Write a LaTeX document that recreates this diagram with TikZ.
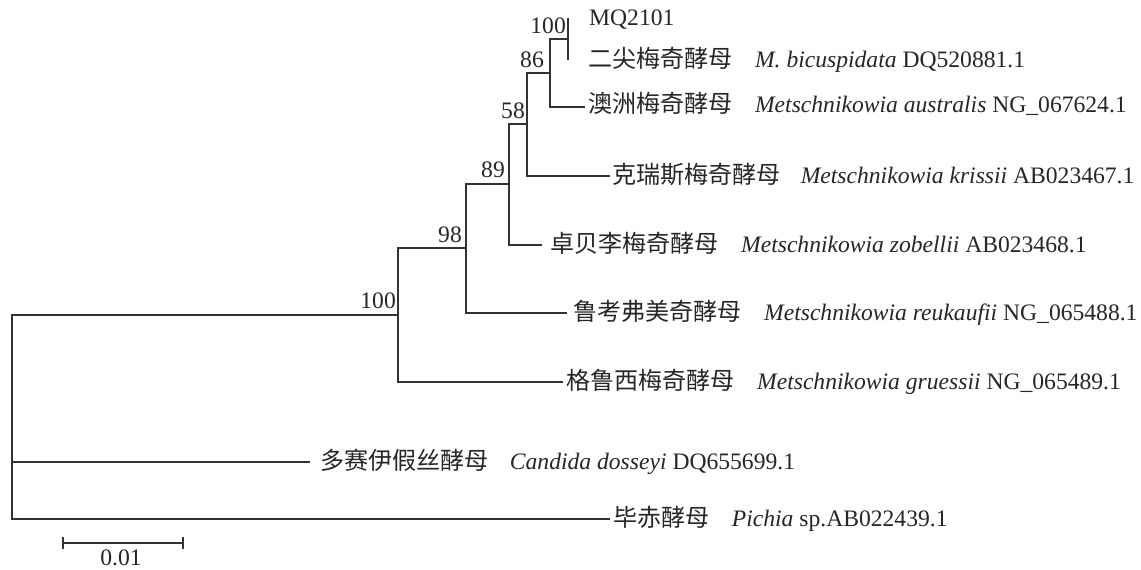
\documentclass[tikz,border=0pt]{standalone}
\usepackage{fontspec}
\setmainfont{Liberation Serif}
\newfontfamily\cjk[Scale=1.02]{Noto Sans CJK SC}
\begin{document}
\begin{tikzpicture}[x=1pt,y=-1pt,
  branch/.style={draw=black!80,line width=1.2pt},
  leaf/.style={anchor=base west,inner sep=0pt,font=\fontsize{23.6}{28}\selectfont,text=black!85},
  boot/.style={anchor=base east,inner sep=0pt,font=\fontsize{23.6}{28}\selectfont,text=black!85}]
\useasboundingbox (0,0) rectangle (1141,570);
% internal nodes
\coordinate (root) at (12,462);
\coordinate (nA) at (398,315);
\coordinate (nB) at (466,248);
\coordinate (nC) at (509,184);
\coordinate (nD) at (527,124);
\coordinate (nE) at (550,73);
\coordinate (nF) at (568,39);
% leaves
\coordinate (lMQ) at (568,18);
\coordinate (lbic) at (568,60);
\coordinate (laus) at (585,107);
\coordinate (lkri) at (610,176);
\coordinate (lzob) at (542,245);
\coordinate (lreu) at (567,313);
\coordinate (lgru) at (563,382);
\coordinate (lcan) at (310,462);
\coordinate (lpic) at (610,519);
% branches
\draw[branch] (root) |- (nA);
\draw[branch] (root) |- (lcan);
\draw[branch] (root) |- (lpic);
\draw[branch] (nA) |- (nB);
\draw[branch] (nA) |- (lgru);
\draw[branch] (nB) |- (nC);
\draw[branch] (nB) |- (lreu);
\draw[branch] (nC) |- (nD);
\draw[branch] (nC) |- (lzob);
\draw[branch] (nD) |- (nE);
\draw[branch] (nD) |- (lkri);
\draw[branch] (nE) |- (nF);
\draw[branch] (nE) |- (laus);
\draw[branch] (nF) |- (lMQ);
\draw[branch] (nF) |- (lbic);
% bootstrap values
\node[boot] (bA) at (396,308) {100};
\node[boot] (bB) at (462,242) {98};
\node[boot] (bC) at (505,177) {89};
\node[boot] (bD) at (525,118) {58};
\node[boot] (bE) at (544,67) {86};
\node[boot] (bF) at (566,33) {100};
% leaf labels
\node[leaf] (tMQ) at (589,25) {MQ2101};
\node[leaf] (tbic) at (588,67) {{\cjk 二尖梅奇酵母}\hspace{0.95em}\textit{M. bicuspidata} DQ520881.1};
\node[leaf] (taus) at (588,112) {{\cjk 澳洲梅奇酵母}\hspace{0.95em}\textit{Metschnikowia australis} NG\_067624.1};
\node[leaf] (tkri) at (612,183) {{\cjk 克瑞斯梅奇酵母}\hspace{0.85em}\textit{Metschnikowia krissii} AB023467.1};
\node[leaf] (tzob) at (550,252) {{\cjk 卓贝李梅奇酵母}\hspace{0.95em}\textit{Metschnikowia zobellii} AB023468.1};
\node[leaf] (treu) at (573,320) {{\cjk 鲁考弗美奇酵母}\hspace{0.95em}\textit{Metschnikowia reukaufii} NG\_065488.1};
\node[leaf] (tgru) at (566,389) {{\cjk 格鲁西梅奇酵母}\hspace{0.95em}\textit{Metschnikowia gruessii} NG\_065489.1};
\node[leaf] (tcan) at (320,469) {{\cjk 多赛伊假丝酵母}\hspace{0.9em}\textit{Candida dosseyi} DQ655699.1};
\node[leaf] (tpic) at (613,526) {{\cjk 毕赤酵母}\hspace{0.95em}\textit{Pichia} sp.AB022439.1};
% scale bar
\coordinate (sL) at (63,543);
\coordinate (sR) at (183,543);
\draw[branch] (sL) -- (sR);
\draw[branch] ([yshift=-6pt]sL) -- ([yshift=6pt]sL);
\draw[branch] ([yshift=-6pt]sR) -- ([yshift=6pt]sR);
\node[anchor=base,inner sep=0pt,font=\fontsize{23.6}{28}\selectfont,text=black!85] (sbl) at (121,565) {0.01};
\end{tikzpicture}
\end{document}
